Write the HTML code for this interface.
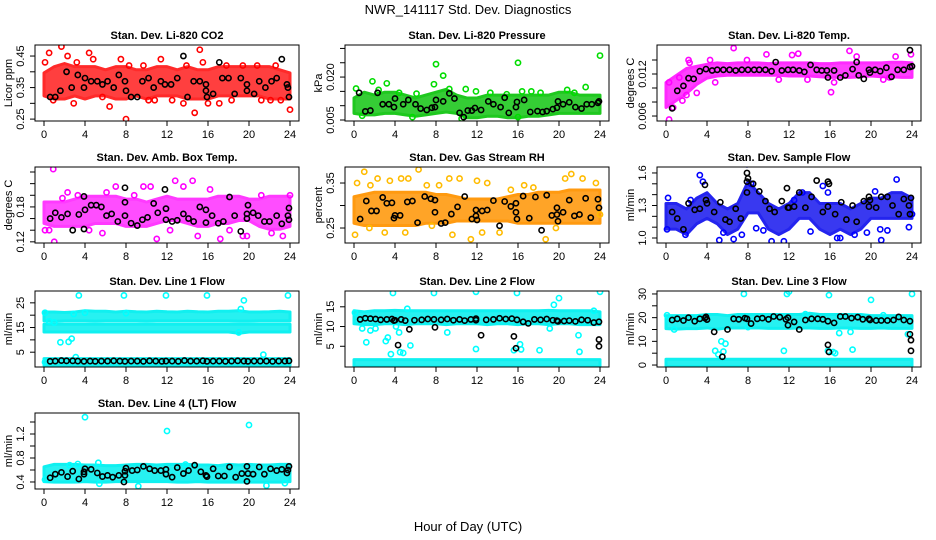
<!DOCTYPE html>
<html><head><meta charset="utf-8"><style>
body{margin:0;background:#fff;width:936px;height:540px;overflow:hidden}
svg{display:block;font-family:"Liberation Sans",sans-serif}
</style></head><body>
<svg id="chart" width="936" height="540" viewBox="0 0 936 540">
<text x="468" y="14" text-anchor="middle" font-size="13">NWR_141117  Std. Dev. Diagnostics</text>
<text x="468" y="531" text-anchor="middle" font-size="13">Hour of Day (UTC)</text>
</svg>
<script>
const bandHours=[0,1,2,3,4,5,6,7,8,9,10,11,12,13,14,15,16,17,18,19,20,21,22,23,24];
// CO2
const co2Lo=[0.33,0.32,0.32,0.33,0.32,0.33,0.33,0.32,0.32,0.33,0.32,0.33,0.33,0.33,0.32,0.32,0.32,0.33,0.33,0.33,0.33,0.33,0.32,0.32,0.32];
const co2Hi=[0.39,0.41,0.42,0.41,0.41,0.41,0.40,0.41,0.41,0.40,0.40,0.41,0.41,0.40,0.41,0.40,0.40,0.41,0.41,0.41,0.41,0.41,0.41,0.40,0.39];
const co2X=[0.1,0.5,1.7,2.3,2.9,4.4,4.8,6.4,7.5,8.0,8.3,9.7,10.2,11.4,12.5,13.6,14.7,15.2,15.5,16.0,17.1,18.3,19.4,20.8,21.2,22.1,23.1,24.0,0.9,3.2,5.7,10.8,13.9,17.8,22.6];
const co2Y=[0.43,0.46,0.48,0.45,0.30,0.46,0.44,0.29,0.44,0.25,0.42,0.42,0.31,0.44,0.31,0.30,0.27,0.47,0.43,0.30,0.30,0.31,0.42,0.42,0.31,0.31,0.31,0.28,0.31,0.43,0.32,0.31,0.42,0.42,0.42];
const co2BX=[0.6,1.1,1.6,2.2,2.7,3.3,3.9,4.0,4.6,5.2,5.7,6.2,6.8,7.3,7.9,8.0,8.5,9.1,9.6,10.2,10.7,11.4,11.8,12.4,13.0,13.6,14.0,14.6,15.2,15.8,15.8,15.9,16.5,17.1,17.4,18.0,18.6,19.2,19.8,19.8,20.5,21.0,21.6,22.2,22.7,23.2,23.7,23.8,23.9];
const co2BY=[0.32,0.32,0.34,0.40,0.35,0.39,0.35,0.38,0.37,0.37,0.36,0.37,0.35,0.39,0.37,0.34,0.32,0.32,0.37,0.38,0.35,0.37,0.36,0.36,0.38,0.45,0.32,0.37,0.37,0.36,0.34,0.32,0.33,0.43,0.38,0.38,0.33,0.38,0.34,0.36,0.33,0.37,0.35,0.37,0.38,0.44,0.36,0.35,0.32];
// Pressure
const prsLo=[0.008,0.0075,0.0075,0.008,0.008,0.0075,0.007,0.0075,0.008,0.0085,0.008,0.0065,0.0065,0.007,0.007,0.0065,0.0065,0.007,0.007,0.0075,0.008,0.008,0.008,0.008,0.008];
const prsHi=[0.012,0.014,0.013,0.014,0.014,0.013,0.012,0.013,0.014,0.015,0.013,0.012,0.012,0.013,0.013,0.013,0.013,0.013,0.013,0.013,0.014,0.014,0.013,0.013,0.013];
const prsX=[0.2,1.8,2.4,3.2,4.4,6.1,7.8,8.0,8.7,9.3,10.5,10.9,11.9,13.3,14.9,16.0,16.4,17.3,18.2,20.8,22.6,24.0,0.8,5.7,16.0,21.5];
const prsY=[0.016,0.0185,0.0155,0.0178,0.0145,0.0142,0.0175,0.0245,0.0205,0.0158,0.0055,0.0158,0.015,0.0145,0.014,0.025,0.015,0.015,0.0145,0.0155,0.0165,0.0275,0.0065,0.006,0.006,0.0145];
const prsBX=[0.5,1.1,1.6,2.3,2.8,3.4,3.9,4.0,4.8,5.3,6.0,6.5,7.1,7.6,7.9,8.0,8.7,9.3,9.8,10.3,10.7,11.1,11.5,11.8,12.4,13.1,13.6,14.3,14.7,15.1,15.8,15.9,16.6,17.2,17.9,18.4,18.8,19.4,19.8,19.9,20.4,21.0,21.6,22.2,22.7,23.2,23.8,23.9];
const prsBY=[0.0145,0.008,0.0083,0.0145,0.0105,0.0105,0.0095,0.0125,0.0105,0.012,0.0105,0.009,0.0085,0.0093,0.0095,0.012,0.0115,0.0143,0.0125,0.0075,0.006,0.0083,0.0083,0.0092,0.0085,0.0115,0.0105,0.0095,0.0128,0.0075,0.0095,0.0113,0.012,0.0078,0.0081,0.0078,0.0081,0.0088,0.0093,0.0115,0.0105,0.0112,0.0095,0.009,0.0105,0.0105,0.011,0.0115];
// Li-820 temp
const tmpLo=[0.0075,0.0085,0.0095,0.0108,0.0117,0.0120,0.0121,0.0121,0.0121,0.0121,0.0121,0.0121,0.0120,0.0120,0.0120,0.0119,0.0118,0.0118,0.0118,0.0119,0.0120,0.0119,0.0119,0.0118,0.0118];
const tmpHi=[0.0105,0.0115,0.0125,0.0128,0.0131,0.0133,0.0132,0.0133,0.0133,0.0133,0.0132,0.0133,0.0133,0.0133,0.0133,0.0132,0.0132,0.0133,0.0133,0.0133,0.0133,0.0133,0.0134,0.0134,0.0133];
const tmpX=[0.3,0.3,0.7,1.3,2.2,2.3,3.0,4.3,4.8,6.6,7.9,9.8,11.0,12.3,12.9,13.8,16.1,16.4,17.9,18.6,21.2,21.8,22.4,23.9,2.0,1.6];
const tmpY=[0.0055,0.0108,0.0072,0.0115,0.0140,0.0136,0.0093,0.0140,0.0108,0.0157,0.0140,0.0148,0.0112,0.0147,0.0149,0.0112,0.0094,0.0108,0.0153,0.0145,0.0112,0.0115,0.0145,0.0148,0.0090,0.0082];
const tmpBX=[0.6,1.1,1.7,2.2,2.7,3.3,3.9,4.5,5.0,5.6,6.2,6.8,7.4,8.0,8.6,9.1,9.7,10.3,10.7,11.3,11.9,12.4,13.0,13.5,14.1,14.7,15.2,15.7,15.8,16.4,17.0,17.5,18.2,18.6,18.8,19.3,19.8,19.9,20.4,20.9,21.5,22.0,22.6,23.2,23.8,23.8,24.0];
const tmpBY=[0.0071,0.0096,0.0103,0.0114,0.0113,0.0124,0.0127,0.0125,0.0126,0.0126,0.0126,0.0125,0.0126,0.0126,0.0126,0.0126,0.0126,0.0124,0.0137,0.0125,0.0126,0.0126,0.0125,0.0123,0.0133,0.0126,0.0125,0.0125,0.0115,0.0125,0.0115,0.0118,0.0127,0.0137,0.0118,0.0113,0.0126,0.0122,0.0126,0.0124,0.0129,0.0116,0.0126,0.0126,0.0154,0.0130,0.0131];
// Amb box temp
const ambLo=[0.155,0.150,0.150,0.150,0.150,0.155,0.155,0.155,0.150,0.150,0.150,0.155,0.160,0.160,0.155,0.150,0.150,0.155,0.155,0.160,0.160,0.150,0.145,0.145,0.150];
const ambHi=[0.185,0.185,0.185,0.190,0.195,0.195,0.195,0.195,0.190,0.190,0.185,0.190,0.195,0.190,0.190,0.190,0.190,0.195,0.195,0.195,0.190,0.190,0.195,0.195,0.195];
const ambX=[0.1,0.5,0.9,1.0,1.8,2.3,3.3,4.4,5.7,6.1,7.0,8.8,9.7,10.4,11.0,12.8,13.6,14.5,15.0,16.2,17.2,18.1,19.4,19.8,21.2,22.2,23.3,24.0,12.3];
const ambY=[0.14,0.14,0.245,0.12,0.195,0.205,0.20,0.14,0.135,0.205,0.215,0.20,0.215,0.215,0.125,0.225,0.215,0.225,0.13,0.21,0.125,0.14,0.13,0.13,0.2,0.135,0.13,0.2,0.14];
const ambBX=[0.6,1.1,1.7,2.3,2.8,3.4,3.9,4.0,3.9,4.6,5.1,5.6,6.1,6.6,7.2,7.9,7.9,7.9,8.5,9.1,9.6,10.1,10.7,11.1,11.8,11.9,11.9,12.5,13.0,13.6,14.1,14.6,15.2,15.8,15.8,16.4,17.0,17.5,18.1,18.6,19.2,19.8,19.8,19.9,20.4,20.9,21.5,22.0,22.7,23.2,23.8,23.9,23.9];
const ambBY=[0.16,0.17,0.162,0.168,0.14,0.167,0.198,0.175,0.142,0.183,0.183,0.18,0.165,0.168,0.155,0.213,0.188,0.165,0.152,0.148,0.158,0.162,0.186,0.17,0.21,0.177,0.158,0.155,0.157,0.168,0.16,0.155,0.18,0.175,0.153,0.165,0.152,0.155,0.197,0.165,0.138,0.168,0.16,0.183,0.17,0.165,0.155,0.155,0.165,0.151,0.165,0.158,0.178];
// Gas stream RH
const rhLo=[0.265,0.26,0.26,0.26,0.26,0.26,0.26,0.265,0.265,0.265,0.27,0.27,0.27,0.27,0.27,0.27,0.265,0.265,0.265,0.265,0.265,0.265,0.265,0.265,0.265];
const rhHi=[0.315,0.32,0.325,0.325,0.325,0.325,0.325,0.325,0.32,0.32,0.315,0.31,0.31,0.31,0.31,0.315,0.32,0.32,0.325,0.325,0.325,0.33,0.33,0.33,0.33];
const rhX=[0.1,0.3,1.0,1.6,1.5,2.3,3.0,3.5,4.6,5.3,6.3,7.1,7.6,8.3,9.3,9.6,10.3,11.4,12.0,12.5,13.0,14.2,15.3,16.6,17.5,18.7,19.7,20.6,21.2,22.3,23.6,24.0,5.0];
const rhY=[0.235,0.35,0.375,0.345,0.25,0.36,0.24,0.355,0.36,0.36,0.38,0.345,0.255,0.345,0.36,0.235,0.36,0.225,0.355,0.24,0.35,0.24,0.335,0.345,0.34,0.225,0.25,0.36,0.37,0.36,0.35,0.28,0.24];
const rhBX=[0.6,1.2,1.7,2.2,2.8,3.2,3.7,3.9,4.0,4.5,5.2,5.7,6.2,6.9,7.5,7.9,7.9,8.5,8.9,9.5,10.1,10.8,11.5,11.9,11.9,12.0,12.5,13.0,13.6,14.2,14.7,15.3,15.8,15.8,15.9,16.5,17.1,17.7,18.3,18.8,19.3,19.8,19.8,19.9,20.4,21.0,21.5,22.0,22.6,23.1,23.8,23.9];
const rhBY=[0.27,0.31,0.288,0.288,0.318,0.305,0.306,0.272,0.278,0.278,0.308,0.31,0.262,0.32,0.315,0.312,0.285,0.26,0.262,0.281,0.297,0.32,0.27,0.29,0.277,0.268,0.288,0.29,0.311,0.255,0.309,0.298,0.305,0.285,0.27,0.321,0.272,0.319,0.245,0.323,0.278,0.295,0.28,0.265,0.285,0.312,0.277,0.28,0.316,0.273,0.314,0.295];
// Sample flow
const sfLo=[1.10,1.10,1.05,1.15,1.20,1.15,1.05,1.10,1.25,1.25,1.10,1.05,1.10,1.20,1.20,1.10,1.05,1.10,1.05,1.10,1.20,1.20,1.20,1.20,1.20];
const sfHi=[1.30,1.30,1.25,1.35,1.40,1.30,1.25,1.30,1.50,1.40,1.30,1.25,1.30,1.40,1.40,1.30,1.30,1.30,1.25,1.30,1.35,1.35,1.40,1.40,1.35];
const sfX=[0.1,0.2,1.9,2.4,3.3,3.6,5.2,5.6,6.6,7.4,7.9,8.3,8.8,9.5,10.3,11.5,12.5,13.3,14.1,15.3,15.8,16.7,17.0,18.4,19.6,20.4,20.9,21.0,21.6,22.5,23.7,24.0];
const sfY=[1.08,1.37,1.03,1.35,1.58,1.52,0.98,1.05,0.99,1.03,1.68,1.5,1.09,1.07,0.97,0.97,1.35,1.42,1.06,1.48,1.42,1.0,1.0,1.03,1.05,1.43,1.08,0.98,1.07,1.54,1.1,1.22];
const sfBX=[0.6,1.1,1.7,2.2,2.8,3.3,3.8,3.9,4.0,4.7,5.3,5.8,6.2,6.8,7.3,7.9,7.9,7.9,8.0,8.5,9.1,9.7,10.1,10.6,11.3,11.8,11.9,12.0,12.5,13.0,13.6,14.2,14.7,15.3,15.8,15.8,15.9,16.5,17.1,17.6,18.2,18.6,19.3,19.8,19.8,19.9,20.5,21.0,21.6,22.1,22.7,23.2,23.7,23.8,23.9];
const sfBY=[1.24,1.18,1.08,1.32,1.26,1.27,1.49,1.35,1.32,1.24,1.33,1.17,1.15,1.27,1.18,1.60,1.52,1.42,1.55,1.5,1.43,1.34,1.27,1.24,1.34,1.46,1.28,1.28,1.29,1.42,1.28,1.38,1.53,1.24,1.29,1.52,1.50,1.22,1.33,1.17,1.30,1.15,1.34,1.29,1.38,1.35,1.28,1.38,1.38,1.30,1.22,1.36,1.30,1.22,1.37];
// Line 1 flow
const l1UpLo=[18.5,18.3,18.5,18.5,18.5,18.4,18.5,18.5,18.5,18.5,18.4,18.5,18.5,18.5,18.5,18.5,18.5,18.5,18.5,18.4,18.4,18.5,18.5,18.5,18.5];
const l1UpHi=[20.5,20.5,20.3,20.5,21.0,20.8,20.8,20.5,20.8,20.6,20.5,20.8,20.6,20.5,20.8,20.6,20.5,20.8,20.8,21.0,20.5,20.5,20.6,20.8,20.5];
const l1MidLo=[14.0,14.0,14.0,14.0,14.0,14.0,14.0,14.0,14.0,14.0,14.0,14.0,14.0,14.0,14.0,14.0,14.0,14.0,14.0,13.5,14.0,14.0,14.0,14.0,14.0];
const l1MidHi=[15.5,15.5,15.5,15.5,15.5,15.5,15.5,15.5,15.5,15.5,15.5,15.5,15.5,15.5,15.5,15.5,15.5,15.5,15.5,15.5,15.5,15.5,15.5,15.5,15.5];
const l1LowLo=[0.4,0.4,0.4,0.4,0.4,0.4,0.4,0.4,0.4,0.4,0.4,0.4,0.4,0.4,0.4,0.4,0.4,0.4,0.4,0.4,0.4,0.4,0.4,0.4,0.4];
const l1LowHi=[1.6,1.6,1.6,1.6,1.6,1.6,1.6,1.6,1.6,1.6,1.6,1.6,1.6,1.6,1.6,1.6,1.6,1.6,1.6,1.6,1.6,1.6,1.6,1.6,1.6];
const l1X=[0.1,0.5,1.0,1.6,2.4,2.7,2.9,3.1,3.4,4.0,7.8,11.9,15.9,19.2,19.5,19.0,21.4,23.8,0.1,8.0];
const l1Y=[21,17.5,17,9,9.2,10.5,20.5,3,28,21,28,28,28,22.5,26,13,4,28,1,20.8];
const l1BX=[0.6,1.1,1.7,2.2,2.8,3.3,3.9,4.5,5.0,5.6,6.2,6.8,7.4,7.9,8.5,9.1,9.7,10.3,10.9,11.5,11.9,12.5,13.1,13.7,14.3,14.9,15.5,15.9,16.5,17.1,17.7,18.3,18.9,19.5,19.9,20.5,21.1,21.7,22.3,22.9,23.5,23.9];
const l1BY=[1.3,1.4,1.6,1.5,1.5,1.4,1.3,1.4,1.3,1.4,1.4,1.5,1.4,1.3,1.4,1.4,1.3,1.5,1.4,1.3,1.4,1.4,1.3,1.6,1.4,1.4,1.5,1.3,1.4,1.4,1.3,1.4,1.5,1.4,1.3,1.4,1.4,1.4,1.3,1.4,1.4,1.5];
// Line 2 flow
const l2UpLo=[11.2,11.0,11.0,11.2,11.2,11.0,11.2,11.2,11.2,11.0,11.2,11.2,11.2,11.0,11.2,11.2,11.0,11.2,11.2,11.0,11.2,11.2,11.0,11.0,11.0];
const l2UpHi=[13.5,13.2,13.5,13.5,13.6,13.5,13.5,13.5,13.5,13.5,13.5,13.5,13.5,13.5,13.5,13.5,13.5,13.5,13.5,13.6,13.5,13.5,13.5,13.5,13.2];
const l2LowLo=[0.3,0.3,0.3,0.3,0.3,0.3,0.3,0.3,0.3,0.3,0.3,0.3,0.3,0.3,0.3,0.3,0.3,0.3,0.3,0.3,0.3,0.3,0.3,0.3,0.3];
const l2LowHi=[1.1,1.1,1.1,1.1,1.1,1.1,1.1,1.1,1.1,1.1,1.1,1.1,1.1,1.1,1.1,1.1,1.1,1.1,1.1,1.1,1.1,1.1,1.1,1.1,1.1];
const l2X=[0.1,0.8,1.2,1.6,2.1,3.1,3.3,3.6,3.8,4.1,4.4,4.5,4.8,5.2,5.5,7.8,9.1,11.9,11.9,15.6,15.9,16.2,16.3,18.1,19.1,19.5,20.0,21.9,22.0,23.4,24.0];
const l2Y=[13.5,9.5,6,9,9.5,6.3,7.2,3,18.5,10,8.5,3.5,3.3,14.5,5.2,18.5,8.5,18.8,4.3,4,18.5,5.5,4.2,4,9.5,15.5,17.2,7.8,3.6,14,18.8];
const l2BX=[0.6,1.1,1.6,2.1,2.6,3.2,3.7,3.9,4.0,4.6,5.0,5.4,4.3,5.9,6.6,7.2,7.8,7.9,8.5,9.1,9.7,10.3,10.8,11.4,11.9,11.9,12.4,12.9,13.6,14.2,14.8,15.4,15.6,15.8,15.9,16.5,17.0,17.6,18.2,18.8,19.4,19.8,19.9,20.5,21.0,21.6,22.2,22.8,23.4,23.9,23.9,23.9];
const l2BY=[11.8,12.1,12.0,11.9,11.7,11.8,11.9,11.5,11.6,11.8,11.5,9.3,5.3,11.6,11.7,11.9,11.8,9.8,11.7,11.9,11.6,11.8,11.5,11.8,12.0,11.6,7.8,11.7,11.8,12.1,11.9,12.0,7.5,4.5,11.7,11.2,10.8,11.8,11.7,11.9,11.6,11.5,11.3,11.4,11.5,11.3,11.7,11.6,11.0,11.2,6.7,5.0];
// Line 3 flow
const l3UpLo=[16.2,16.0,16.2,16.2,16.5,16.0,16.5,16.5,16.5,16.5,16.3,16.3,16.3,16.5,16.5,16.3,16.3,16.5,16.5,16.3,16.3,16.5,16.3,16.3,16.3];
const l3UpHi=[20.0,20.0,20.0,20.0,20.5,20.5,20.0,20.5,20.5,20.5,20.5,20.5,20.5,20.5,21.0,20.5,20.5,20.5,20.5,20.5,20.0,20.0,20.0,20.0,20.0];
const l3LowLo=[0.2,0.2,0.2,0.2,0.2,0.2,0.2,0.2,0.2,0.2,0.2,0.2,0.2,0.2,0.2,0.2,0.2,0.2,0.2,0.2,0.2,0.2,0.2,0.2,0.2];
const l3LowHi=[1.6,1.6,1.6,1.6,1.6,1.6,1.6,1.6,1.6,1.6,1.6,1.6,1.6,1.6,1.6,1.6,1.6,1.6,1.6,1.6,1.6,1.6,1.6,1.6,1.6];
const l3X=[0.1,0.8,3.1,4.8,5.1,5.4,5.6,5.8,7.6,7.8,8.0,11.8,11.5,12.0,15.8,15.9,16.3,16.5,16.9,18.0,18.2,20.0,21.2,23.6,24.0,13.6];
const l3Y=[21,15,20,6,4.5,10,5.7,9,30,20,16,30,6,31,6,29.5,5.5,5,13.5,14,6.5,27.5,21,13,30,21.5];
const l3BX=[0.6,1.1,1.7,2.2,2.8,3.3,3.8,3.9,4.0,4.7,5.5,6.0,6.6,7.1,7.7,7.9,8.3,8.9,9.4,10.0,10.5,11.1,11.7,11.9,11.9,12.5,13.0,13.6,14.2,14.8,15.3,15.8,15.8,15.9,16.4,17.0,17.5,18.1,18.7,19.2,19.8,19.9,20.5,21.0,21.6,22.2,22.7,23.2,23.8,23.8,23.9,23.9];
const l3BY=[19.0,19.5,18.8,20.0,18.5,19.5,19.8,20.3,19.2,14.0,3.5,15.0,19.5,19.3,19.8,19.5,17.5,19.5,19.8,19.3,20.5,20.2,19.3,20.0,16.8,18.2,15.0,19.0,19.5,19.5,19.3,18.5,8.5,5.5,17.8,20.5,20.5,19.8,20.2,19.3,19.5,19.0,18.8,18.8,18.8,19.0,20.3,19.0,18.5,13.0,10.5,6.0];
// Line 4 flow
const l4Lo=[0.44,0.43,0.43,0.43,0.44,0.43,0.43,0.44,0.44,0.44,0.44,0.44,0.44,0.43,0.43,0.44,0.43,0.43,0.43,0.43,0.43,0.43,0.43,0.43,0.44];
const l4Hi=[0.62,0.66,0.66,0.66,0.65,0.65,0.64,0.64,0.65,0.66,0.66,0.65,0.66,0.66,0.66,0.65,0.65,0.64,0.66,0.65,0.66,0.65,0.65,0.66,0.66];
const l4X=[4.0,12.0,20.0,5.4,9.2,21.7,23.5,3.3,5.3,13.8,0.1,2.5];
const l4Y=[1.48,1.25,1.35,0.37,0.33,0.34,0.38,0.70,0.72,0.69,0.44,0.68];
const l4BX=[0.6,1.1,1.7,2.3,2.8,3.4,3.9,3.9,4.0,4.6,5.2,5.7,6.2,6.7,7.3,7.8,7.9,7.9,8.0,8.6,9.1,9.7,10.3,10.8,11.4,11.9,11.9,12.5,13.0,13.6,14.1,14.7,15.3,15.8,15.9,16.5,17.0,17.6,18.1,18.7,19.3,19.8,19.8,19.9,20.4,21.0,21.5,22.1,22.7,23.2,23.7,23.8,23.9];
const l4BY=[0.47,0.53,0.56,0.49,0.58,0.45,0.57,0.53,0.62,0.61,0.55,0.49,0.51,0.48,0.51,0.40,0.58,0.51,0.63,0.59,0.60,0.66,0.62,0.59,0.59,0.53,0.61,0.48,0.64,0.54,0.59,0.68,0.57,0.51,0.49,0.62,0.50,0.50,0.65,0.48,0.54,0.66,0.41,0.54,0.53,0.65,0.53,0.62,0.59,0.61,0.55,0.60,0.66];

const panels=[
 {id:'co2',title:'Stan. Dev. Li-820 CO2',ylab:'Licor ppm',col:0,row:0,ymin:0.244,ymax:0.485,ticks:[0.25,0.30,0.35,0.40,0.45],labs:['0.25','0.35','0.45'],color:'#ff0000',band:'#ff2a2a',bands:[[co2Lo,co2Hi]],sx:co2X,sy:co2Y,bx:co2BX,by:co2BY},
 {id:'pressure',title:'Stan. Dev. Li-820 Pressure',ylab:'kPa',col:1,row:0,ymin:0.00465,ymax:0.0312,ticks:[0.005,0.010,0.015,0.020,0.025,0.030],labs:['0.005','0.020'],color:'#00dd00',band:'#1fc81f',bands:[[prsLo,prsHi]],sx:prsX,sy:prsY,bx:prsBX,by:prsBY},
 {id:'temp',title:'Stan. Dev. Li-820 Temp.',ylab:'degrees C',col:2,row:0,ymin:0.00529,ymax:0.01614,ticks:[0.006,0.008,0.010,0.012,0.014],labs:['0.006','0.012'],color:'#ff00ff',band:'#ff2aff',bands:[[tmpLo,tmpHi]],sx:tmpX,sy:tmpY,bx:tmpBX,by:tmpBY},
 {id:'amb-box',title:'Stan. Dev. Amb. Box Temp.',ylab:'degrees C',col:0,row:1,ymin:0.118,ymax:0.2486,ticks:[0.12,0.14,0.16,0.18,0.20,0.22,0.24],labs:['0.12','0.18'],color:'#ff00ff',band:'#ff3aff',bands:[[ambLo,ambHi]],sx:ambX,sy:ambY,bx:ambBX,by:ambBY},
 {id:'gas-rh',title:'Stan. Dev. Gas Stream RH',ylab:'percent',col:1,row:1,ymin:0.2167,ymax:0.3856,ticks:[0.25,0.30,0.35],labs:['0.25','0.35'],color:'#ffbb00',band:'#ff9a10',bands:[[rhLo,rhHi]],sx:rhX,sy:rhY,bx:rhBX,by:rhBY},
 {id:'sample-flow',title:'Stan. Dev. Sample Flow',ylab:'ml/min',col:2,row:1,ymin:0.954,ymax:1.655,ticks:[1.0,1.1,1.2,1.3,1.4,1.5,1.6],labs:['1.0','1.3','1.6'],color:'#0000ff',band:'#2424ee',bands:[[sfLo,sfHi]],sx:sfX,sy:sfY,bx:sfBX,by:sfBY},
 {id:'line1',title:'Stan. Dev. Line 1 Flow',ylab:'ml/min',col:0,row:2,ymin:-1,ymax:29.8,ticks:[5,10,15,20,25],labs:['5','15','25'],color:'#00ffff',band:'#10f0f0',bands:[[l1UpLo,l1UpHi],[l1MidLo,l1MidHi],[l1LowLo,l1LowHi]],sx:l1X,sy:l1Y,bx:l1BX,by:l1BY},
 {id:'line2',title:'Stan. Dev. Line 2 Flow',ylab:'ml/min',col:1,row:2,ymin:-0.25,ymax:19,ticks:[5,10,15],labs:['5','10','15'],color:'#00ffff',band:'#10f0f0',bands:[[l2UpLo,l2UpHi],[l2LowLo,l2LowHi]],sx:l2X,sy:l2Y,bx:l2BX,by:l2BY},
 {id:'line3',title:'Stan. Dev. Line 3 Flow',ylab:'ml/min',col:2,row:2,ymin:-0.83,ymax:31.25,ticks:[0,5,10,15,20,25,30],labs:['0','10','20','30'],color:'#00ffff',band:'#10f0f0',bands:[[l3UpLo,l3UpHi],[l3LowLo,l3LowHi]],sx:l3X,sy:l3Y,bx:l3BX,by:l3BY},
 {id:'line4',title:'Stan. Dev. Line 4 (LT) Flow',ylab:'ml/min',col:0,row:3,ymin:0.283,ymax:1.55,ticks:[0.4,0.6,0.8,1.0,1.2,1.4],labs:['0.4','0.8','1.2'],color:'#00ffff',band:'#10f0f0',bands:[[l4Lo,l4Hi]],sx:l4X,sy:l4Y,bx:l4BX,by:l4BY}
];
const xTicks=[0,4,8,12,16,20,24];
const colL=[35,345,657], rowT=[45,167,291,413], BW=264, BH=76;
const NS='http://www.w3.org/2000/svg';
const svg=document.getElementById('chart');
function mk(tag,attrs,parent){const e=document.createElementNS(NS,tag);for(const k in attrs)e.setAttribute(k,attrs[k]);(parent||svg).appendChild(e);return e;}
panels.forEach(p=>{
  const L=colL[p.col],T=rowT[p.row],B=T+BH;
  const xs=h=>L+9+h*(246/24);
  const ys=v=>B-(v-p.ymin)/(p.ymax-p.ymin)*BH;
  const g=mk('g',{});
  
  
  const clip=mk('clipPath',{id:'c-'+p.id},g);
  mk('rect',{x:L,y:T,width:BW,height:BH},clip);
  const data=mk('g',{'clip-path':'url(#c-'+p.id+')'},g);
  p.bands.forEach((bd,bi)=>{
    const lo=bd[0],hi=bd[1];
    let pts=bandHours.map((h,i)=>xs(h)+','+(ys(hi[i])-2)).join(' ')+' '+bandHours.slice().reverse().map((h,j)=>{const i=bandHours.length-1-j;return xs(h)+','+(ys(lo[i])+2);}).join(' ');
    const poly=mk('polygon',{points:pts,fill:p.band,'fill-opacity':0.9,stroke:p.band,'stroke-width':3,'stroke-linejoin':'round'},data);
    
    
  });
  p.sx.forEach((h,i)=>{
    const c=mk('circle',{cx:xs(h),cy:ys(p.sy[i]),r:2.6,fill:'none',stroke:p.color,'stroke-width':1.6},data);
    
    
  });
  p.bx.forEach((h,i)=>{
    const c=mk('circle',{cx:xs(h),cy:ys(p.by[i]),r:2.6,fill:'none',stroke:'#000','stroke-width':1.6},data);
    
    
  });
  const box=mk('rect',{x:L,y:T,width:BW,height:BH,fill:'none',stroke:'#000','stroke-width':1},g);
  
  
  const t=mk('text',{x:L+BW/2,y:T-6,'text-anchor':'middle','font-size':11,'font-weight':'bold'},g);
  t.textContent=p.title;
  
  
  xTicks.forEach(h=>{
    mk('line',{x1:xs(h),x2:xs(h),y1:B,y2:B+5,stroke:'#000'},g);
    const tx=mk('text',{x:xs(h),y:B+17,'text-anchor':'middle','font-size':11},g);
    tx.textContent=h;
    
    
  });
  p.ticks.forEach(v=>{mk('line',{x1:L-5,x2:L,y1:ys(v),y2:ys(v),stroke:'#000'},g);});
  p.labs.forEach(s=>{
    const v=parseFloat(s);
    const tl=mk('text',{x:0,y:0,transform:'translate('+(L-11)+','+ys(v)+') rotate(-90)','text-anchor':'middle','font-size':11},g);
    tl.textContent=s;
    
    
  });
  const yl=mk('text',{x:0,y:0,transform:'translate('+(L-23)+','+(T+BH/2)+') rotate(-90)','text-anchor':'middle','font-size':11},g);
  yl.textContent=p.ylab;
  
  
});
</script>
</body></html>
